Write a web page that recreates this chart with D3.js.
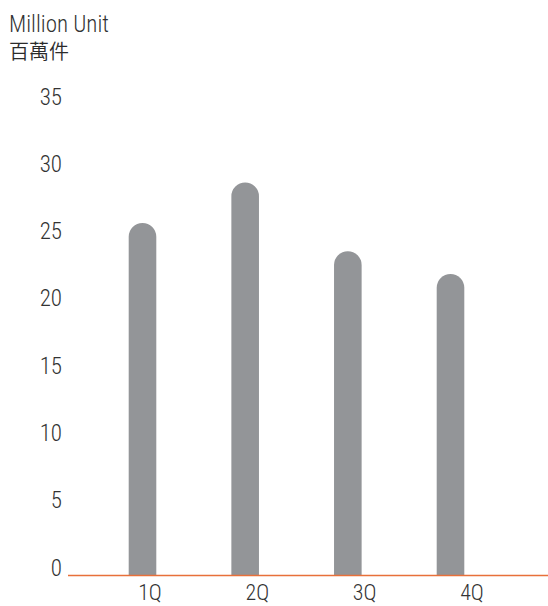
<!DOCTYPE html>
<html>
<head>
<meta charset="utf-8">
<script src="https://cdn.jsdelivr.net/npm/d3@7"></script>
<style>
html,body{margin:0;padding:0;background:#fff;}
svg{display:block;}
.t{font-family:"Roboto Condensed","Liberation Sans Narrow","Arial Narrow",Roboto,sans-serif;font-weight:300;fill:#333333;}
.cjk{font-family:"Noto Sans CJK TC","Noto Sans CJK SC",sans-serif;font-weight:350;fill:#2b2b2b;}
</style>
</head>
<body>
<script>
const categories = ["1Q","2Q","3Q","4Q"];
const values = [26.2, 29.2, 24.1, 22.4];
const yTicks = [0,5,10,15,20,25,30,35];
const unitEn = "Million Unit";
const unitZh = "百萬件";

const W = 548, H = 606;
const svg = d3.select("body").append("svg").attr("width", W).attr("height", H);

const y = d3.scaleLinear().domain([0,35]).range([575.5,104.5]);
const xBar = d3.scalePoint().domain(categories).range([142.5,450.5]);
const xLab = d3.scalePoint().domain(categories).range([150,472]);
const bw = 27.6, r = bw/2;

svg.append("text").attr("class","t").attr("x",9).attr("y",32).attr("font-size",23).text(unitEn);
svg.append("text").attr("class","cjk").attr("x",9).attr("y",59).attr("font-size",20).text(unitZh);

svg.append("g").selectAll("text").data(yTicks).join("text")
  .attr("class","t").attr("x",62).attr("y",d=>y(d)).attr("text-anchor","end")
  .attr("font-size",23).text(d=>d);

svg.append("g").selectAll("path").data(values).join("path")
  .attr("fill","#939598")
  .attr("d",(d,i)=>{
    const cx = xBar(categories[i]), x0 = cx-bw/2, x1 = cx+bw/2;
    const yt = y(d), yb = y(0);
    return `M${x0},${yb}L${x0},${yt+r}A${r},${r} 0 0 1 ${x1},${yt+r}L${x1},${yb}Z`;
  });

svg.append("line").attr("x1",68).attr("x2",548).attr("y1",y(0)).attr("y2",y(0))
  .attr("stroke","#e8703a").attr("stroke-width",1.5);

svg.append("g").selectAll("text").data(categories).join("text")
  .attr("class","t").attr("x",d=>xLab(d)).attr("y",600).attr("text-anchor","middle")
  .attr("font-size",22).text(d=>d);
</script>
</body>
</html>
